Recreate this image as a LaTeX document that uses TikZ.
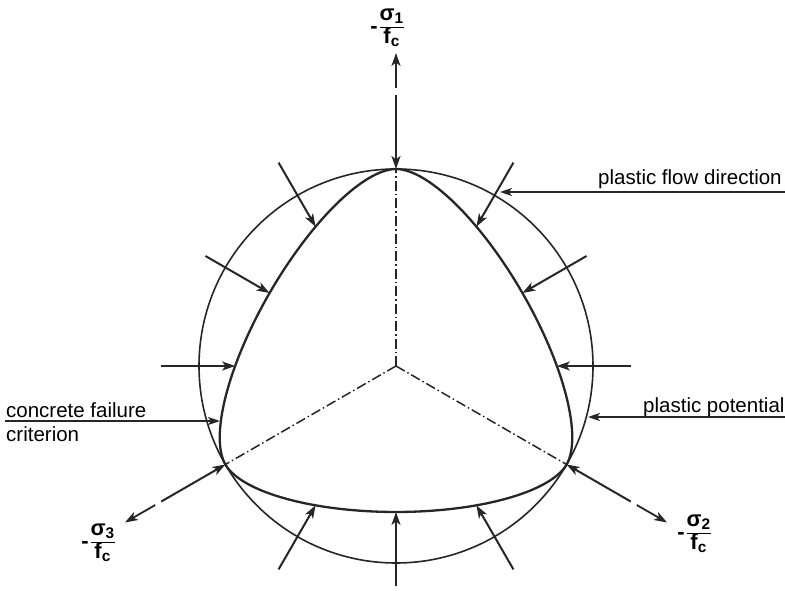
\documentclass[tikz,border=0pt]{standalone}
\usepackage{fontspec}
\setmainfont{Liberation Sans}
\usetikzlibrary{arrows.meta}
% Willam-Warnke type deviatoric curve, rc = 197, rt/rc = 0.741
\pgfmathdeclarefunction{wwr}{1}{%
  \begingroup
  \pgfmathparse{acos(max(-1,min(1,cos(3*(#1-270)))))/3}\let\wwth\pgfmathresult
  \pgfmathparse{cos(\wwth)}\let\wwcs\pgfmathresult
  \pgfmathparse{197*(2*0.450919*\wwcs+0.482*sqrt(max(0,4*0.450919*\wwcs*\wwcs-0.218595)))/(4*0.450919*\wwcs*\wwcs+0.232324)}%
  \pgfmathsmuggle\pgfmathresult
  \endgroup}
\newcommand{\axlab}[1]{\bfseries\fontsize{22}{24}\selectfont -\kern2pt{\renewcommand{\arraystretch}{0.8}\begin{tabular}{@{}c@{}}σ\textsubscript{#1}\\[1pt]\hline f\textsubscript{c}\end{tabular}}}
\tikzset{
  pot/.style={line width=1.6pt, black!85},
  crit/.style={line width=2.3pt, black!85},
  flow/.style={line width=2pt, black!85, -{Stealth[length=13pt,width=9pt,inset=3.5pt]}},
  axarrow/.style={line width=1.8pt, black!85, -{Stealth[length=13pt,width=9pt,inset=3.5pt]}},
  lead/.style={line width=1.5pt, black!85, -{Stealth[length=12pt,width=8pt,inset=3pt]}},
  axisline/.style={line width=1.5pt, black!85, dash pattern=on 10pt off 3pt on 1.5pt off 3pt},
  lbl/.style={font=\fontsize{20.5}{24}\selectfont, inner sep=0pt},
  axlbl/.style={inner sep=0pt}
}
\begin{document}
\begin{tikzpicture}[x=1pt,y=-1pt]
\useasboundingbox (0,0) rectangle (785,591);
\fill[white] (0,0) rectangle (785,591);
\coordinate (O) at (396,366);
% plastic potential (circle)
\draw[pot] (O) circle[radius=197];
% concrete failure criterion
\draw[crit] plot[domain=0:360, samples=361, variable=\p] ({396+wwr(\p)*cos(\p)},{366-wwr(\p)*sin(\p)}) -- cycle;
% flow arrows
\foreach \a in {0,30,...,330}{
  \pgfmathsetmacro\rr{wwr(\a)}
  \coordinate (ft\a) at ({396+\rr*cos(\a)},{366-\rr*sin(\a)});
  \coordinate (fs\a) at ({396+(\rr+74)*cos(\a)},{366-(\rr+74)*sin(\a)});
  \draw[flow] (fs\a) -- (ft\a);
}
% axes
\foreach \a in {90,210,330}{
  \draw[axisline] (O) -- (ft\a);
  \coordinate (aa\a) at ({396+278*cos(\a)},{366-278*sin(\a)});
  \coordinate (ab\a) at ({396+313*cos(\a)},{366-313*sin(\a)});
  \draw[axarrow] (aa\a) -- (ab\a);
}
% axis labels
\node[axlbl] (s1) at (387,28) {\axlab{1}};
\node[axlbl] (s2) at (694,534) {\axlab{2}};
\node[axlbl] (s3) at (98,543) {\axlab{3}};
% leader labels
\node[lbl, anchor=base west] (pfd) at (598,185) {plastic flow direction};
\coordinate (pfdR) at (785,192);
\coordinate (pfdT) at (500,192);
\draw[lead] (pfdR) -- (pfdT);
\node[lbl, anchor=base west] (pp) at (643,412) {plastic potential};
\coordinate (ppR) at (785,417);
\coordinate (ppT) at (588,417);
\draw[lead] (ppR) -- (ppT);
\node[lbl, anchor=base west] (cf) at (6,417) {concrete failure};
\node[lbl, anchor=base west] (cf2) at (6,441) {criterion};
\coordinate (cfL) at (5,421);
\coordinate (cfT) at (220,421);
\draw[lead] (cfL) -- (cfT);
\end{tikzpicture}
\end{document}
